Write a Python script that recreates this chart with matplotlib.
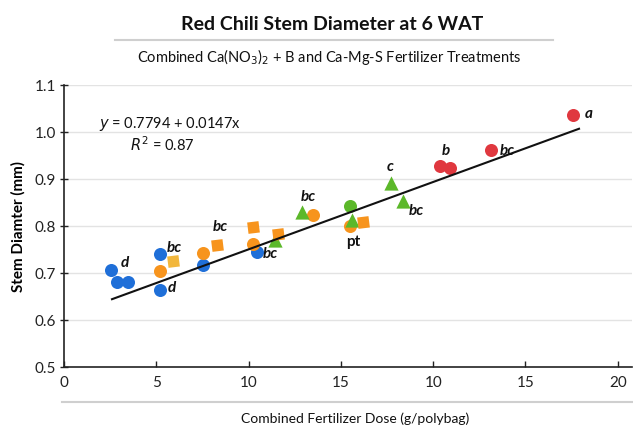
import matplotlib
matplotlib.use("Agg")
import matplotlib.pyplot as plt
from matplotlib.lines import Line2D

plt.rcParams['font.family'] = ['Lato', 'DejaVu Sans']

# ---- data (x in axis units; tick labels are as printed) ----
blue_x = [2.53, 2.89, 3.48, 5.20, 5.20, 7.55, 10.44]
blue_y = [0.705, 0.680, 0.680, 0.740, 0.664, 0.717, 0.744]

orange_circ_x = [5.20, 7.55, 10.25, 13.50, 15.49]
orange_circ_y = [0.704, 0.742, 0.762, 0.823, 0.799]

orange_sq_x = [8.27, 10.25, 11.61, 16.21]
orange_sq_y = [0.760, 0.797, 0.782, 0.807]

yellow_sq_x = [5.92]
yellow_sq_y = [0.726]

green_tri_x = [11.43, 12.88, 15.58, 17.71, 18.38]
green_tri_y = [0.770, 0.830, 0.813, 0.891, 0.853]

green_circ_x = [15.49]
green_circ_y = [0.841]

red_x = [20.37, 20.91, 23.13, 27.56]
red_y = [0.926, 0.923, 0.960, 1.035]

fit_x = [2.6, 27.9]
fit_y = [0.644, 1.006]

letters = ['d', 'bc', 'd', 'bc', 'bc', 'bc', 'pt', 'c', 'bc', 'b', 'bc', 'a']
letter_x = [3.30, 5.95, 5.85, 8.49, 11.20, 13.22, 15.66, 17.66, 19.10, 20.69, 24.00, 28.45]
letter_y = [0.723, 0.755, 0.670, 0.799, 0.743, 0.864, 0.767, 0.926, 0.834, 0.960, 0.960, 1.040]

xticks = [0, 5, 10, 15, 20, 25, 30]
xtick_labels = ['0', '5', '10', '15', '10', '15', '20']
yticks = [0.5, 0.6, 0.7, 0.8, 0.9, 1.0, 1.1]

BLUE = '#1f6fd8'
ORANGE = '#f7941d'
YELLOW = '#f2b73c'
GREEN = '#5cb82a'
RED = '#e0383f'

fig = plt.figure(figsize=(6.33, 4.27), dpi=100)
W, H = 633, 427
ax = fig.add_axes([64 / W, 1 - 368 / H, 568 / W, (368 - 85.5) / H])

ax.set_xlim(0, 30.77)
ax.set_ylim(0.5, 1.1)
for yv in yticks[1:]:
    ax.axhline(yv, color='#e3e3e3', lw=1.0, zorder=0)

ms = 88
sq = 135
ax.scatter(blue_x, blue_y, s=ms, color=BLUE, marker='o', linewidths=0, zorder=3)
ax.scatter(orange_circ_x, orange_circ_y, s=ms, color=ORANGE, marker='o', linewidths=0, zorder=4)
ax.scatter(green_tri_x, green_tri_y, s=105, color=GREEN, marker='^', linewidths=0, zorder=5)
ax.scatter(green_circ_x, green_circ_y, s=ms, color=GREEN, marker='o', linewidths=0, zorder=5)
ax.scatter(yellow_sq_x, yellow_sq_y, s=sq, color=YELLOW, marker=(4, 0, 52), linewidths=0, zorder=6)
ax.scatter(orange_sq_x, orange_sq_y, s=sq, color=ORANGE, marker=(4, 0, 52), linewidths=0, zorder=6)
ax.scatter(red_x, red_y, s=ms, color=RED, marker='o', linewidths=0, zorder=6)

ax.plot(fit_x, fit_y, color='#111111', lw=1.5, zorder=7)

for t, x, y in zip(letters, letter_x, letter_y):
    style = 'normal' if t == 'pt' else 'italic'
    ax.text(x, y, t, ha='center', va='center', fontsize=11, fontweight='bold',
            fontstyle=style, color='#111111', zorder=8)

ax.text(0.0615, 0.864, r'$y$ = 0.7794 + 0.0147x', transform=ax.transAxes,
        ha='left', va='center', fontsize=10.5, color='#111111')
ax.text(0.116, 0.792, r'$R^2$ = 0.87', transform=ax.transAxes,
        ha='left', va='center', fontsize=10.5, color='#111111')

for s in ['top', 'right']:
    ax.spines[s].set_visible(False)
for s in ['left', 'bottom']:
    ax.spines[s].set_color('#222222')
    ax.spines[s].set_linewidth(1.2)

ax.set_xticks(xticks)
ax.set_xticklabels(xtick_labels)
ax.set_yticks(yticks)
ax.set_yticklabels([f'{v:.1f}' for v in yticks])
ax.tick_params(axis='x', direction='in', length=4, width=1, labelsize=11, pad=6, colors='#222222')
ax.tick_params(axis='y', direction='inout', length=6, width=1, labelsize=11, pad=3, colors='#222222')

ax.set_ylabel('Stem Diamter (mm)', fontsize=11, fontweight='bold', labelpad=6)

# title and subtitle
fig.text(332 / W, 1 - 24 / H, 'Red Chili Stem Diameter at 6 WAT', ha='center', va='center',
         fontsize=14, fontweight='bold', color='#111111')
fig.add_artist(Line2D([115 / W, 553 / W], [1 - 41 / H, 1 - 41 / H], color='#cfcfcf', lw=1.5))
fig.text(329 / W, 1 - 57 / H, r'Combined Ca(NO$_3$)$_2$ + B and Ca-Mg-S Fertilizer Treatments',
         ha='center', va='center', fontsize=10.5, color='#111111')

# bottom separator and x label
fig.add_artist(Line2D([62 / W, 633 / W], [1 - 403 / H, 1 - 403 / H], color='#cfcfcf', lw=1.5))
fig.text(355 / W, 1 - 419 / H, 'Combined Fertilizer Dose (g/polybag)', ha='center', va='center',
         fontsize=10, color='#111111')

fig.savefig('out.png', dpi=100)
